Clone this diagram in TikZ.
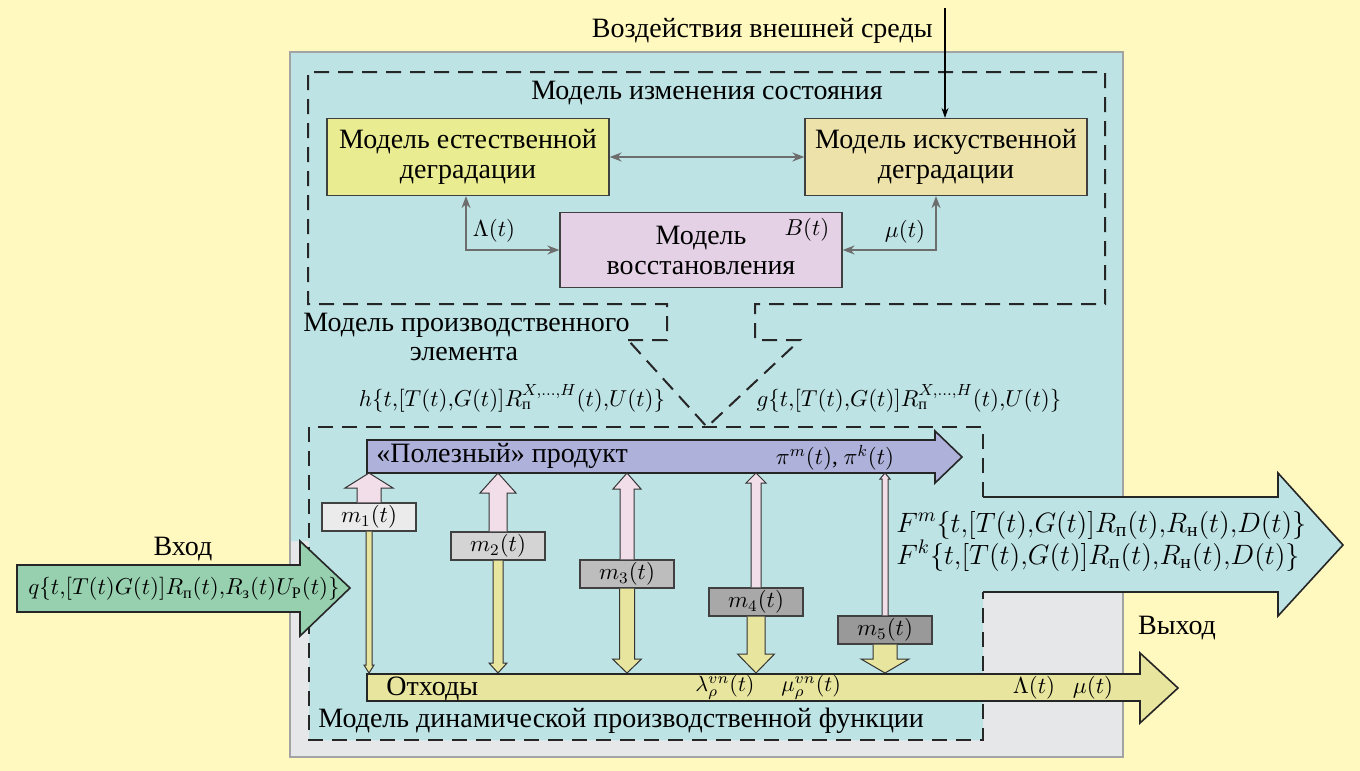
\RequirePackage{fix-cm}
\documentclass[tikz,border=0pt]{standalone}
\usepackage{amsmath}
\usepackage{fontspec}
\setmainfont{Liberation Serif}
\usetikzlibrary{arrows.meta,calc}

\definecolor{bgyellow}{HTML}{FFF8BF}
\definecolor{panelcyan}{HTML}{BEE3E5}
\definecolor{panelgray}{HTML}{E6E7E9}
\definecolor{framegray}{HTML}{A3A3A3}
\definecolor{natfill}{HTML}{E9EC90}
\definecolor{artfill}{HTML}{EDE2AA}
\definecolor{restfill}{HTML}{E4D1E6}
\definecolor{prodfill}{HTML}{AEB2DA}
\definecolor{wastefill}{HTML}{E8E59E}
\definecolor{infill}{HTML}{96D0AE}
\definecolor{pinkflow}{HTML}{F2DEE9}
\definecolor{linkgray}{HTML}{6D6D6D}

% block arrow from a box up to the product arrow
\newcommand{\flowup}[4]{%
  \coordinate (#1top) at (#1.north |- prodbot);
  \draw[flowedge,fill=pinkflow] ($(#1.north)+(-#2,0)$) -- ($(#1top)+(-#2,#4)$)
    -- ($(#1top)+(-#3,#4)$) -- (#1top) -- ($(#1top)+(#3,#4)$)
    -- ($(#1top)+(#2,#4)$) -- ($(#1.north)+(#2,0)$);
}
% block arrow from a box down to the waste arrow
\newcommand{\flowdown}[4]{%
  \coordinate (#1bot) at (#1.south |- wastetop);
  \draw[flowedge,fill=wastefill] ($(#1.south)+(-#2,0)$) -- ($(#1bot)+(-#2,-#4)$)
    -- ($(#1bot)+(-#3,-#4)$) -- (#1bot) -- ($(#1bot)+(#3,-#4)$)
    -- ($(#1bot)+(#2,-#4)$) -- ($(#1.south)+(#2,0)$);
}

\begin{document}
\begin{tikzpicture}[x=0.5pt,y=-0.5pt,
    txt/.style={font=\fontsize{14}{15}\selectfont,inner sep=0pt},
    mth/.style={font=\fontsize{11.5}{13}\selectfont,inner sep=0pt},
    modbox/.style={draw=black!75,line width=0.6pt,minimum width=141pt,minimum height=38.5pt,
      align=center,inner sep=0pt,font=\fontsize{14}{15}\selectfont},
    mbox/.style={draw=black!75,line width=0.6pt,minimum width=47pt,minimum height=14pt,
      inner sep=0pt,font=\fontsize{11.5}{13}\selectfont},
    graylink/.style={draw=linkgray,line width=0.9pt,
      {Stealth[length=6pt,width=4.5pt]}-{Stealth[length=6pt,width=4.5pt]}},
    dashbox/.style={draw=black!85,line width=1pt,dash pattern=on 7.5pt off 4.5pt},
    bigarrow/.style={draw=black!85,line width=0.8pt},
    flowedge/.style={draw=black!80,line width=0.5pt}]

  \fill[bgyellow] (0,0) rectangle (1360,771);
  \useasboundingbox (0,0) rectangle (1360,771);

  % production element panel
  \fill[panelgray] (290,52) rectangle (1123,757);
  \fill[panelcyan] (290,52) -- (1123,52) -- (1123,541) -- (983,541) -- (983,740)
    -- (309,740) -- (309,541) -- (290,541) -- cycle;
  \draw[framegray,line width=1pt] (290,52) rectangle (1123,757);

  % state change model
  \draw[dashbox] (628,340) -- (667,340) -- (667,304) -- (308,304) -- (308,72)
    -- (1105,72) -- (1105,304) -- (755,304) -- (755,340) -- (800,340) -- (707,427) -- cycle;
  \node[txt] (statelbl) at (707,93) {Модель изменения состояния};
  \node[txt,anchor=west] (elemlbl) at (303,325) {Модель производственного};
  \node[txt] (elemlbl2) at (464,354) {элемента};

  \node[modbox,fill=natfill] (nat) at (468,157) {Модель естественной\\деградации};
  \node[modbox,fill=artfill] (art) at (946,157) {Модель искуственной\\деградации};
  \node[modbox,fill=restfill,minimum height=37.5pt] (rest) at (701,250) {Модель\\восстановления};
  \node[mth] (blbl) at (807,230) {$B(t)$};

  \draw[graylink] (nat.east) -- (art.west);
  \draw[graylink] ([xshift=-1pt]nat.south) |- (rest.west);
  \draw[graylink] (rest.east) -| ([xshift=-5pt]art.south);
  \node[mth] (lamlbl) at (494,231) {$\Lambda(t)$};
  \node[mth] (mulbl) at (905,232) {$\mu(t)$};

  % environment
  \coordinate (env) at (945,8);
  \node[txt,anchor=east] (envlbl) at (933,31) {Воздействия внешней среды};
  \draw[black,line width=0.6pt,-{Stealth[length=5pt,width=3.5pt]}] (env) -- (env |- art.north);

  \node[mth] (hlbl) at (512,398) {$h\{t{,}[T(t){,}G(t)]R_{\text{п}}^{X,\ldots,H}(t){,}U(t)\}$};
  \node[mth] (glbl) at (909,398) {$g\{t{,}[T(t){,}G(t)]R_{\text{п}}^{X,\ldots,H}(t){,}U(t)\}$};

  % dynamic production function model
  \draw[dashbox] (983,497) -- (983,427) -- (309,427) -- (309,740) -- (983,740) -- (983,592);
  \node[txt,anchor=west] (dynlbl) at (318,721) {Модель динамической производственной функции};

  % output
  \draw[bigarrow,fill=panelcyan] (983,497) -- (1278,497) -- (1278,473) -- (1343,545)
    -- (1278,616) -- (1278,592) -- (983,592);
  \node[font=\fontsize{14}{16}\selectfont,inner sep=0pt,anchor=west,align=left] (outlbl) at (896,541)
    {$F^m\{t{,}[T(t){,}G(t)]R_{\text{п}}(t){,}R_{\text{н}}(t){,}D(t)\}$\\
     $F^k\{t{,}[T(t){,}G(t)]R_{\text{п}}(t){,}R_{\text{н}}(t){,}D(t)\}$};
  \node[txt] (outname) at (1177,628) {Выход};

  % useful product
  \draw[bigarrow,fill=prodfill] (367,440) -- (935,440) -- (935,431) -- (962,457)
    -- (935,483) -- (935,473) -- (367,473) -- cycle;
  \coordinate (prodbot) at (367,473);
  \node[txt,anchor=west] (prodlbl) at (376,456) {«Полезный» продукт};
  \node[mth] (pilbl) at (835,458) {$\pi^m(t)$, $\pi^k(t)$};

  % waste
  \draw[bigarrow,fill=wastefill] (367,674) -- (1140,674) -- (1140,653) -- (1178,688)
    -- (1140,723) -- (1140,701) -- (367,701) -- cycle;
  \coordinate (wastetop) at (367,673);
  \node[txt,anchor=west] (wastelbl) at (386,689) {Отходы};
  \node[mth,anchor=west,font=\fontsize{11}{12}\selectfont] (lamvn) at (695,687) {$\lambda_\rho^{vn}(t)$};
  \node[mth,anchor=west,font=\fontsize{11}{12}\selectfont] (muvn) at (781,687) {$\mu_\rho^{vn}(t)$};
  \node[mth] (lamout) at (1034,688) {$\Lambda(t)$};
  \node[mth] (muout) at (1093,688) {$\mu(t)$};

  % input
  \draw[bigarrow,fill=infill] (17,565) -- (300,565) -- (300,541) -- (350,588)
    -- (300,636) -- (300,612) -- (17,612) -- cycle;
  \node[mth] (inlbl) at (184,589) {$q\{t{,}[T(t)G(t)]R_{\text{п}}(t){,}R_{\text{з}}(t)U_{\text{Р}}(t)\}$};
  \node[txt] (inname) at (183,549) {Вход};

  % product components
  \node[mbox,fill=black!8] (m1) at (369,517) {$m_1(t)$};
  \node[mbox,fill=black!17] (m2) at (498,546) {$m_2(t)$};
  \node[mbox,fill=black!26] (m3) at (627,574) {$m_3(t)$};
  \node[mbox,fill=black!34] (m4) at (756,602) {$m_4(t)$};
  \node[mbox,fill=black!40] (m5) at (885,630) {$m_5(t)$};

  \flowup{m1}{12}{24}{15}
  \flowup{m2}{9}{18}{20}
  \flowup{m3}{7}{14}{16}
  \flowup{m4}{5}{10}{10}
  \flowup{m5}{3}{5}{6}
  \flowdown{m1}{3}{5}{8}
  \flowdown{m2}{5}{9}{10}
  \flowdown{m3}{7.5}{14.5}{14}
  \flowdown{m4}{9}{18.5}{19}
  \flowdown{m5}{12}{24}{14}
\end{tikzpicture}
\end{document}
